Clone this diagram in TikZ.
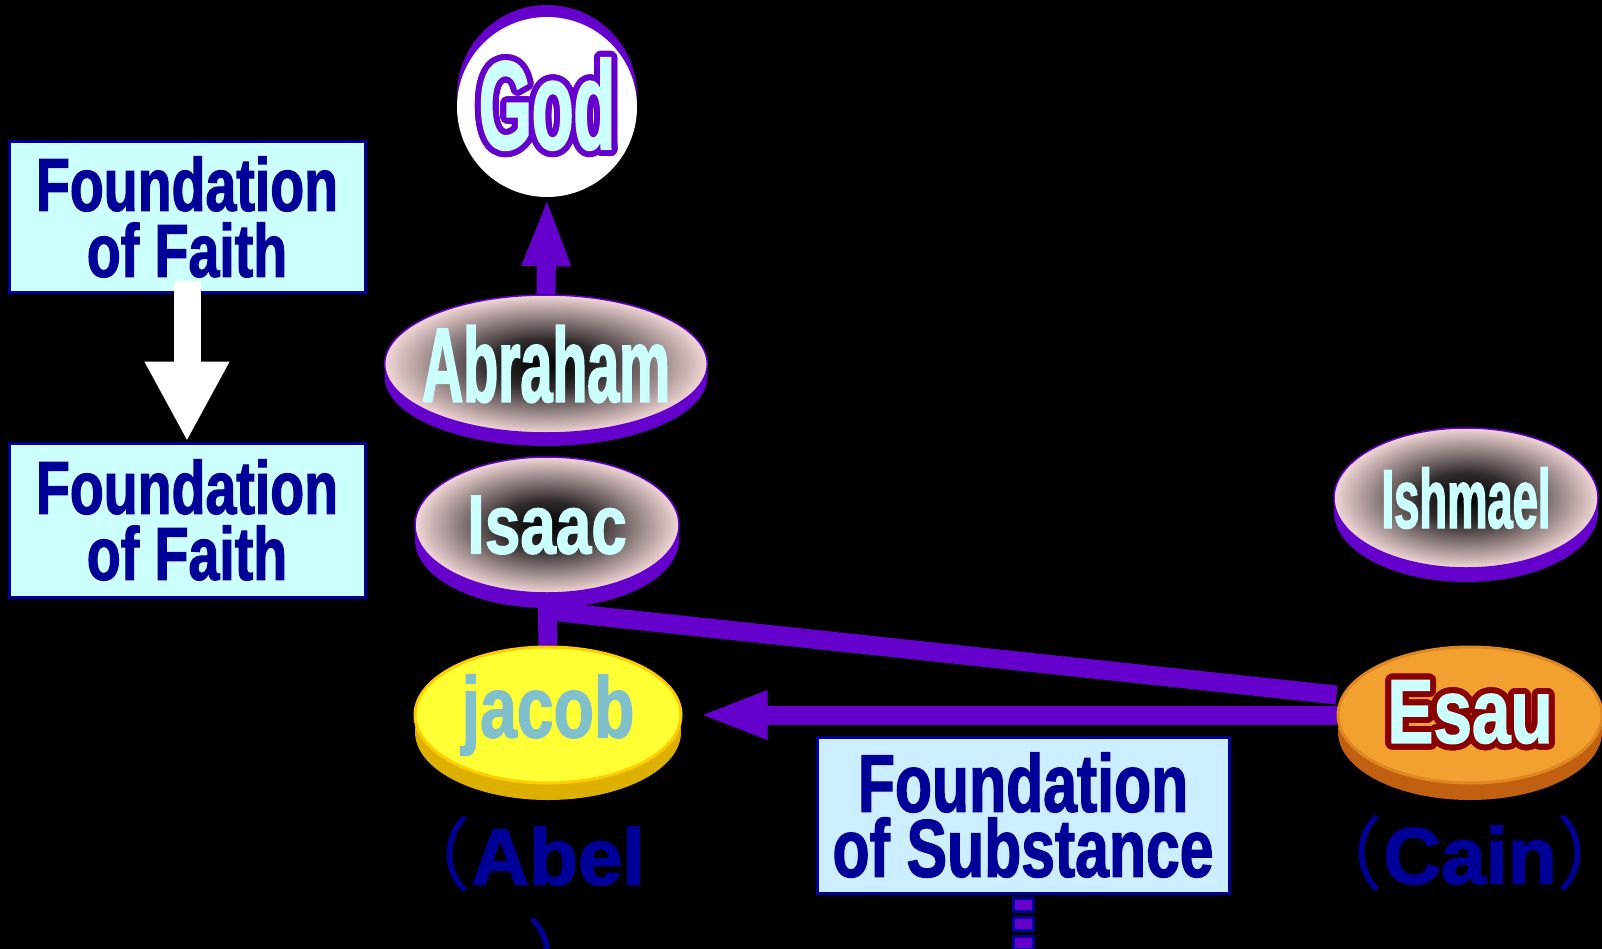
\documentclass[tikz,border=0pt]{standalone}
\usepackage{fontspec}
\usepackage{contour}
\usetikzlibrary{shapes.geometric,shadows,arrows.meta,calc}

\setmainfont{Liberation Sans}
\newfontfamily\boxfont[FakeStretch=0.74, FakeBold=1.5]{Liberation Sans}
\newfontfamily\tallfont[FakeStretch=0.54, FakeBold=1.5]{Liberation Sans}
\newfontfamily\widefont[FakeStretch=0.76, FakeBold=1.5]{Liberation Sans}
\newfontfamily\heavyfont[FakeBold=2]{Liberation Sans}
\newfontfamily\cjk{Noto Sans CJK SC}

\definecolor{linkpurple}{HTML}{6600CC}
\definecolor{navy}{HTML}{000099}
\definecolor{faithfill}{HTML}{CCFFFF}
\definecolor{substfill}{HTML}{CCEEFF}
\definecolor{namecyan}{HTML}{CCFFFF}
\definecolor{rimpink}{HTML}{F2D6D6}
\definecolor{jacobfill}{HTML}{FFFF33}
\definecolor{jacobrim}{HTML}{FFCC00}
\definecolor{jacobbase}{HTML}{DDB000}
\definecolor{jacobtext}{HTML}{80C0CC}
\definecolor{esaufill}{HTML}{F2A030}
\definecolor{esaurim}{HTML}{E08820}
\definecolor{esaubase}{HTML}{C06010}
\definecolor{esauline}{HTML}{880000}

\pgfdeclareradialshading{rimglow}{\pgfpoint{0bp}{0bp}}{%
  color(0bp)=(black); color(9bp)=(black!80!rimpink); color(25bp)=(rimpink); color(50bp)=(rimpink)}

\pgfdeclarelayer{canvas}
\pgfdeclarelayer{links}
\pgfsetlayers{canvas,links,main}

\contournumber{32}

\tikzset{
  foundation/.style={draw=navy, line width=3pt, rectangle, inner sep=0pt, align=center,
    text=navy, font=\boxfont\bfseries\fontsize{75}{66}\selectfont},
  person/.style={ellipse, inner sep=0pt, inner xsep=-10pt, minimum width=264pt, minimum height=136pt},
  ancestor/.style={person, shading=rimglow, draw=linkpurple, line width=1.5pt, text=namecyan,
    drop shadow={shadow xshift=0pt, shadow yshift=#1, fill=linkpurple, opacity=1}},
  ancestor/.default=-14pt,
  link/.style={draw=linkpurple, line width=19pt},
  bigarrow/.style={link, -{Triangle[length=69pt, width=44pt]}},
  whitearrow/.style={draw=white, line width=27pt, -{Triangle[length=80pt, width=79pt]}},
  alias/.style={text=navy, font=\heavyfont\bfseries\fontsize{80}{102}\selectfont, align=center, inner sep=0pt},
}

\begin{document}
\begin{tikzpicture}[x=1pt, y=-1pt]

    % Page
    \useasboundingbox (0,0) rectangle (1602,949);
    \begin{pgfonlayer}{canvas}
        \fill[black] (0,0) rectangle (1602,949);
    \end{pgfonlayer}

    % God
    \node[circle, fill=white, minimum size=180pt, inner sep=0pt,
        drop shadow={shadow xshift=0pt, shadow yshift=12pt, fill=linkpurple, opacity=1},
        font=\tallfont\bfseries\fontsize{126}{126}\selectfont]
        (god) at (547,107) {\contourlength{6pt}\contour{linkpurple}{\textcolor{namecyan}{God}}};

    % Ancestors
    \node[ancestor=-13pt, minimum width=312pt, minimum height=138pt,
        font=\tallfont\bfseries\fontsize{106}{106}\selectfont]
        (abr) at (546,364) {Abraham};
    \node[ancestor=-15pt, minimum height=136pt,
        font=\widefont\bfseries\fontsize{84}{84}\selectfont]
        (isaac) at (547,525) {Isaac};
    \node[ancestor, minimum height=140pt,
        font=\tallfont\bfseries\fontsize{84}{84}\selectfont]
        (ishmael) at (1466,498) {Ishmael};

    % Sons
    \node[person, minimum width=266pt, fill=jacobfill, draw=jacobrim, line width=3pt,
        drop shadow={shadow xshift=0pt, shadow yshift=-17pt, fill=jacobbase, opacity=1},
        text=jacobtext, font=\widefont\bfseries\fontsize{87}{87}\selectfont]
        (jacob) at (548,715) {jacob};
    \node[person, fill=esaufill, draw=esaurim, line width=3pt,
        drop shadow={shadow xshift=0pt, shadow yshift=-17pt, fill=esaubase, opacity=1},
        font=\widefont\bfseries\fontsize{91}{91}\selectfont]
        (esau) at (1470,715) {\contourlength{6pt}\contour{esauline}{\textcolor{namecyan}{Esau}}};

    % Old names
    \node[alias, anchor=north] (abel) at (518,816)
        {{\cjk\mdseries （}Abel\\\hspace*{96pt}{\cjk\mdseries ）}};
    \node[alias, anchor=north] (cain) at (1470,815)
        {{\cjk\mdseries （}Cain{\cjk\mdseries ）}};

    % Foundations
    \node[foundation, fill=faithfill, minimum width=356pt, minimum height=151pt]
        (faithA) at (187,217) {Foundation\\of Faith};
    \node[foundation, fill=faithfill, minimum width=356pt, minimum height=154pt]
        (faithB) at (187,520) {Foundation\\of Faith};
    \node[foundation, fill=substfill, minimum width=412pt, minimum height=156pt,
        font=\boxfont\bfseries\fontsize{82}{65}\selectfont]
        (subst) at (1023,815) {Foundation\\of Substance};

    % Connectors
    \begin{pgfonlayer}{links}
        \draw[bigarrow] (abr.north) -- (god.south);
        \draw[link] (isaac.south) -- (jacob.north);
        \draw[link] ([yshift=-17pt]isaac.south) -- ([yshift=20pt]esau.west);
        \draw[bigarrow, shorten >=16pt] (esau.west) -- (jacob.east);
    \end{pgfonlayer}
    \draw[whitearrow] ([yshift=13pt]faithA.south) -- (faithB.north);

    % Dotted line under the box
    \foreach \k in {0,1,2}
        \filldraw[fill=linkpurple, draw=navy, line width=3pt]
            ($(subst.south)+(-10,4+19*\k)$) rectangle +(20,13);

\end{tikzpicture}
\end{document}
